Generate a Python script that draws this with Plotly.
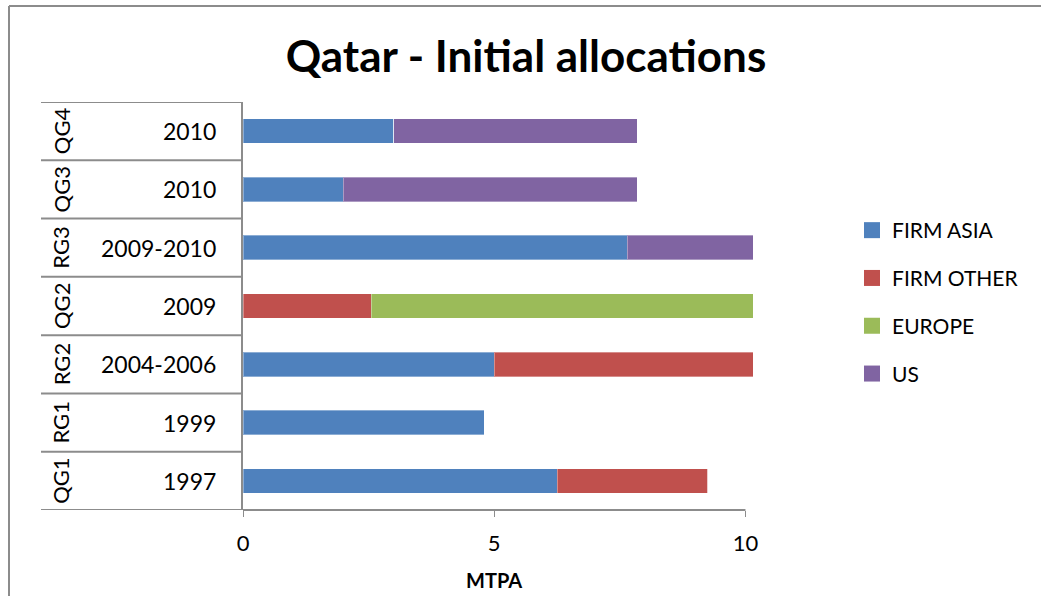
import plotly.graph_objects as go

# ---- data ----
groups = ["QG1", "RG1", "RG2", "QG2", "RG3", "QG3", "QG4"]
years = ["1997", "1999", "2004-2006", "2009", "2009-2010", "2010", "2010"]
firm_asia = [6.25, 4.8, 5.0, 0, 7.65, 2.0, 3.0]
firm_other = [3.0, 0, 5.15, 2.55, 0, 0, 0]
europe = [0, 0, 0, 7.6, 0, 0, 0]
us = [0, 0, 0, 0, 2.5, 5.85, 4.85]
x_ticks = [0, 5, 10]

series = [
    ("FIRM ASIA", firm_asia, "#4F81BD"),
    ("FIRM OTHER", firm_other, "#C0504D"),
    ("EUROPE", europe, "#9BBB59"),
    ("US", us, "#8064A2"),
]

FONT = "Lato"
W, H = 1041, 596
L, R, T, B = 243, 288, 102, 86
PW, PH = W - L - R, H - T - B

def px(xp):
    return (xp - L) / PW

def py(yp):
    return (H - B - yp) / PH

fig = go.Figure()
for i, (name, vals, col) in enumerate(series):
    fig.add_trace(go.Bar(
        y=groups, x=vals, name=name, orientation="h",
        marker=dict(color=col, line=dict(color="rgba(255,255,255,0.35)", width=1)),
        width=0.42, showlegend=False,
    ))
# legend entries with larger square swatches
for i, (name, vals, col) in enumerate(series):
    fig.add_trace(go.Scatter(
        x=[None], y=[None], mode="markers", name=name,
        marker=dict(symbol="square", size=17, color=col),
        legendgroup=f"g{i}", showlegend=True,
    ))

shapes = []
n = len(groups)
for k in range(n + 1):
    shapes.append(dict(type="line", xref="paper", yref="y",
                       x0=px(41), x1=px(243), y0=k - 0.5, y1=k - 0.5,
                       line=dict(color="#8C8C8C", width=2)))
shapes.append(dict(type="line", xref="x", yref="paper", x0=0, x1=10, y0=0, y1=0,
                   line=dict(color="#8C8C8C", width=2)))
shapes.append(dict(type="line", xref="paper", yref="paper",
                   x0=px(9), x1=px(9), y0=py(6), y1=py(620),
                   line=dict(color="#8C8C8C", width=2)))
shapes.append(dict(type="line", xref="paper", yref="paper",
                   x0=px(9), x1=px(1060), y0=py(6), y1=py(6),
                   line=dict(color="#8C8C8C", width=2)))

annotations = []
for g, yr in zip(groups, years):
    annotations.append(dict(xref="paper", yref="y", x=px(218), y=g, text=yr,
                            showarrow=False, xanchor="right", yanchor="middle",
                            font=dict(family=FONT, size=23, color="#000")))
    annotations.append(dict(xref="paper", yref="y", x=px(61), y=g, text=g,
                            showarrow=False, textangle=-90, xanchor="center", yanchor="middle",
                            font=dict(family=FONT, size=22, color="#000")))
# x axis title
annotations.append(dict(xref="x", yref="paper", x=5, y=py(580), text="<b>MTPA</b>",
                        showarrow=False, xanchor="center", yanchor="middle",
                        font=dict(family=FONT, size=20, color="#000")))

fig.update_layout(
    width=W, height=H,
    margin=dict(l=L, r=R, t=T, b=B, autoexpand=False),
    paper_bgcolor="white", plot_bgcolor="white",
    barmode="stack",
    title=dict(text="<b>Qatar - Initial allocations</b>", x=526 / W, xanchor="center",
               y=1 - 57 / H, yanchor="middle", yref="container",
               font=dict(family=FONT, size=44, color="#000")),
    xaxis=dict(range=[0, 10.15], tickvals=x_ticks, ticktext=[str(v) for v in x_ticks],
               showgrid=False, zeroline=False, showline=False, automargin=False,
               ticks="outside", ticklen=6, tickcolor="#8C8C8C", tickwidth=1,
               ticklabelstandoff=8,
               tickfont=dict(family=FONT, size=22, color="#000")),
    yaxis=dict(categoryorder="array", categoryarray=groups, range=[-0.5, n - 0.5],
               showticklabels=False, showgrid=False, zeroline=False, automargin=False,
               showline=True, linecolor="#8C8C8C", linewidth=2, ticks=""),
    legend=dict(x=px(852), y=py(210), xanchor="left", yanchor="top",
                traceorder="grouped", tracegroupgap=17.5,
                font=dict(family=FONT, size=21, color="#000"),
                bgcolor="rgba(0,0,0,0)"),
    shapes=shapes, annotations=annotations,
)

fig.write_html("out.html", config={"displayModeBar": False},
               post_script="document.body.style.margin='0';document.body.style.overflow='hidden';")
